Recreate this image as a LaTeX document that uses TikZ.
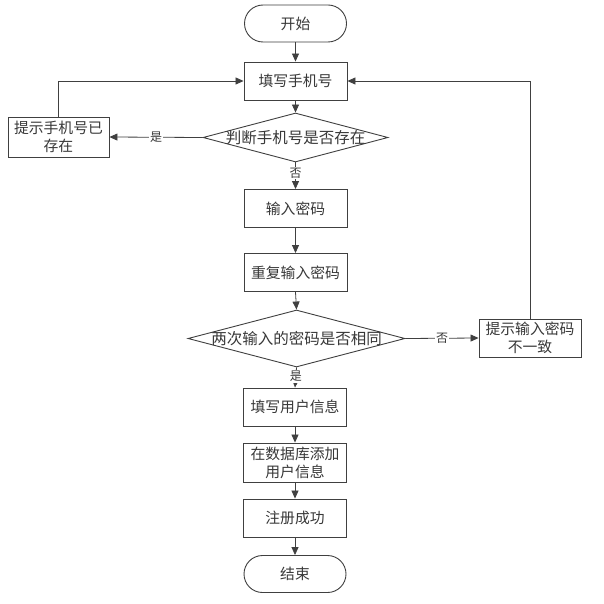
\documentclass[tikz,border=0pt]{standalone}
\usepackage{fontspec}
\newfontfamily\cjk{Noto Sans CJK SC}
\usetikzlibrary{arrows.meta,shapes.geometric}
\definecolor{ln}{HTML}{404040}
\definecolor{tx}{HTML}{383838}
\tikzset{
  box/.style={draw=ln,line width=0.9pt,rectangle,minimum width=103pt,minimum height=38pt,inner sep=0pt,align=center,text=tx,font=\cjk\fontsize{14.8}{18}\selectfont},
  term/.style={box,rounded corners=18.5pt,minimum width=102pt,minimum height=37pt},
  dia/.style={draw=ln,line width=0.9pt,diamond,inner sep=0pt},
  dtext/.style={text=tx,font=\cjk\fontsize{15.5}{18}\selectfont,inner sep=0pt},
  arr/.style={draw=ln,line width=0.8pt,-{Triangle[length=8pt,width=7pt]}},
  lab/.style={fill=white,text=tx,font=\cjk\fontsize{12}{14}\selectfont,inner sep=1pt}
}
\begin{document}
\begin{tikzpicture}[x=1pt,y=-1pt]
\useasboundingbox[fill=white] (0,0) rectangle (603,604);
\node[term] (start) at (295.5,23.5) {开始};
\node[box] (b1) at (295.5,81) {填写手机号};
\node[dia,minimum width=185pt,minimum height=49pt] (d1) at (295.5,137.5) {};
\node[dtext] at (d1) {判断手机号是否存在};
\node[box,minimum width=101pt,minimum height=40pt] (lb) at (58.5,137) {提示手机号已\\存在};
\node[box] (b2) at (295.5,208.5) {输入密码};
\node[box] (b3) at (295.5,272.5) {重复输入密码};
\node[dia,minimum width=217pt,minimum height=57pt] (d2) at (296.5,338.5) {};
\node[dtext] at (d2) {两次输入的密码是否相同};
\node[box,minimum width=102pt] (rb) at (530,338) {提示输入密码\\不一致};
\node[box] (b4) at (295,407) {填写用户信息};
\node[box,minimum height=39pt] (b5) at (295,462.5) {在数据库添加\\用户信息};
\node[box] (b6) at (295,518) {注册成功};
\node[term] (end) at (295,574) {结束};

\draw[arr] (start) -- (b1);
\draw[arr] (b1) -- (d1);
\draw[arr] (d1.west) -- node[lab,pos=0.5] {是} (lb.east);
\draw[arr] (lb.north) |- (b1.west);
\draw[arr] (d1.south) -- node[lab,pos=0.4] {否} (b2.north);
\draw[arr] (b2) -- (b3);
\draw[arr] (b3.south) -- (d2.north);
\draw[arr] (d2.east) -- node[lab,pos=0.5] {否} (rb.west);
\draw[arr] (rb.north) |- (b1.east);
\draw[arr] (d2.south) -- node[lab,pos=0.45] {是} (b4.north);
\draw[arr] (b4) -- (b5);
\draw[arr] (b5) -- (b6);
\draw[arr] (b6) -- (end);
\end{tikzpicture}
\end{document}
